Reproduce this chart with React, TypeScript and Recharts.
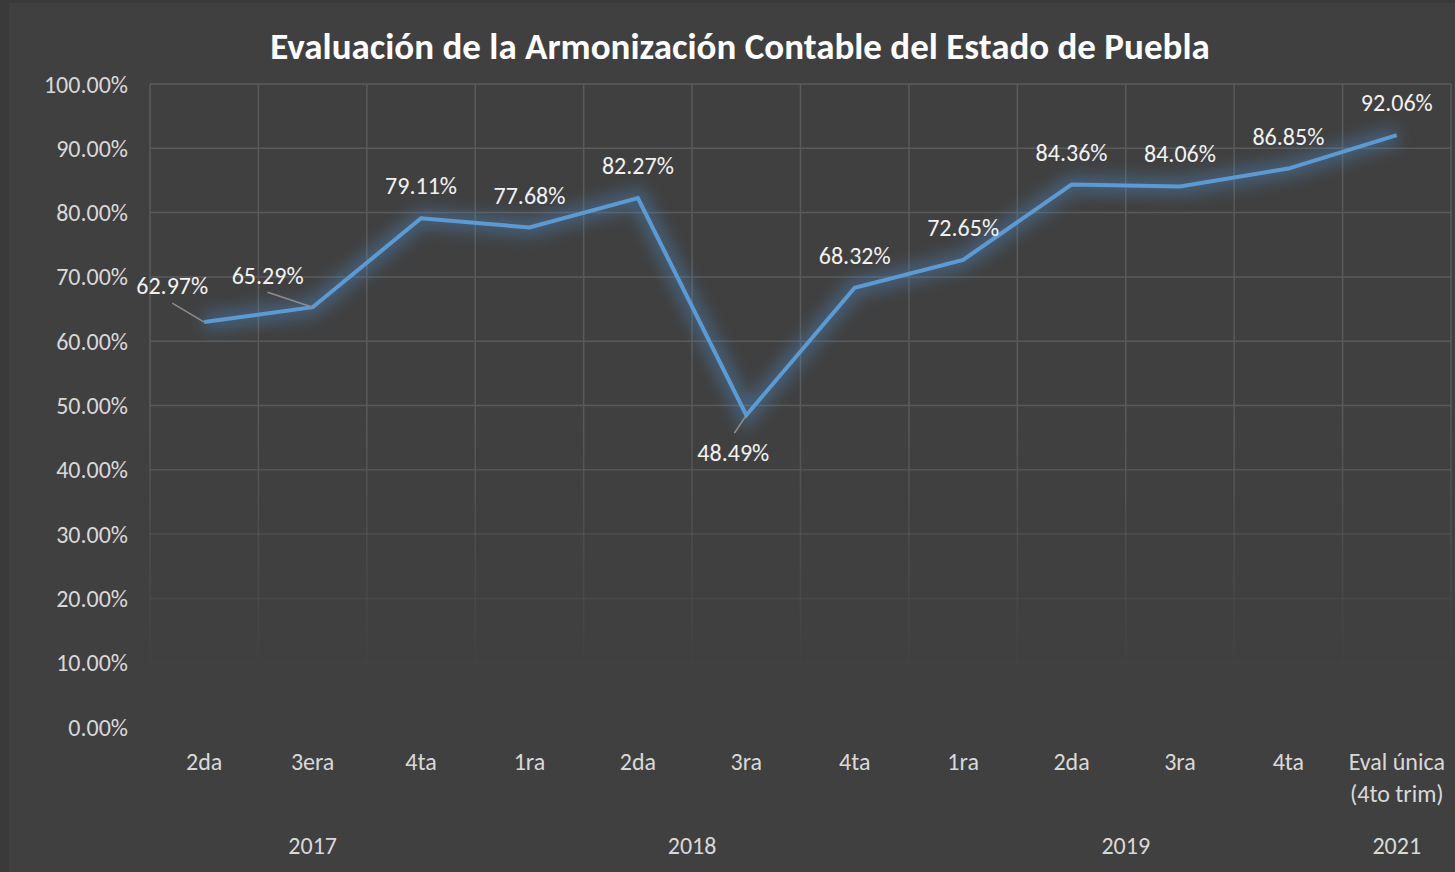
import React from 'react';
import {
  LineChart,
  Line,
  XAxis,
  YAxis,
  CartesianGrid,
  LabelList,
} from 'recharts';

const periods = ['2da', '3era', '4ta', '1ra', '2da', '3ra', '4ta', '1ra', '2da', '3ra', '4ta', 'Eval única\n(4to trim)'];
const years = ['2017', '2017', '2017', '2018', '2018', '2018', '2018', '2019', '2019', '2019', '2019', '2021'];
const scores = [62.97, 65.29, 79.11, 77.68, 82.27, 48.49, 68.32, 72.65, 84.36, 84.06, 86.85, 92.06];
const yTicks = [0, 10, 20, 30, 40, 50, 60, 70, 80, 90, 100];

const data = periods.map((p, i) => ({ idx: i, period: p, year: years[i], value: scores[i] }));

const FONT = 'Carlito, Lato, "Open Sans", sans-serif';
const W = 1455;
const H = 872;
const PLOT_LEFT = 150;
const PLOT_RIGHT = 1451;
const STEP = (PLOT_RIGHT - PLOT_LEFT) / periods.length;
const FS = 24;

// label placement (text centre relative to point) and leader lines
const labelOffsets: Record<number, { dx: number; dy: number; leader?: [number, number] }> = {
  0: { dx: -32, dy: -36, leader: [-32, -19] },
  1: { dx: -45, dy: -31, leader: [-45, -15] },
  5: { dx: -13, dy: 38, leader: [-12, 18] },
};

const PointLabel = (props: any) => {
  const { x, y, value, index } = props;
  const o = labelOffsets[index] || { dx: 0, dy: -32 };
  return (
    <g>
      {o.leader && (
        <line x1={x + o.leader[0]} y1={y + o.leader[1]} x2={x} y2={y} stroke='#8c8c8c' strokeWidth={1.5} />
      )}
      <text
        x={x + o.dx}
        y={y + o.dy + 8}
        textAnchor='middle'
        fill='#f2f2f2'
        fontSize={FS}
        fontFamily={FONT}
      >
        {Number(value).toFixed(2)}%
      </text>
    </g>
  );
};

const CategoryTick = (props: any) => {
  const { x, y, index } = props;
  const lines = periods[index].split('\n');
  const year = years[index];
  const first = years.indexOf(year);
  const count = years.filter((v) => v === year).length;
  return (
    <g>
      {lines.map((l, i) => (
        <text
          key={i}
          x={x}
          y={y + 43 + i * 32}
          textAnchor='middle'
          fill='#d9d9d9'
          fontSize={FS}
          fontFamily={FONT}
        >
          {l}
        </text>
      ))}
      {index === first && (
        <text
          x={x + ((count - 1) / 2) * STEP}
          y={y + 127}
          textAnchor='middle'
          fill='#d9d9d9'
          fontSize={FS}
          fontFamily={FONT}
        >
          {year}
        </text>
      )}
    </g>
  );
};

export default function App() {
  return (
    <div style={{ position: 'absolute', left: 0, top: 0, width: W, height: H, background: '#3a3a3a' }}>
      <div style={{ position: 'absolute', left: 9, top: 3, right: 0, bottom: 0, background: '#404040' }} />
      <div
        style={{
          position: 'absolute',
          left: 0,
          width: 1480,
          top: 25,
          textAlign: 'center',
          color: '#ffffff',
          fontFamily: FONT,
          fontWeight: 700,
          fontSize: 37,
          lineHeight: '44px',
        }}
      >
        Evaluación de la Armonización Contable del Estado de Puebla
      </div>
      <div style={{ position: 'absolute', left: 0, top: 0 }}>
        <LineChart width={W} height={H} data={data} margin={{ top: 84, right: W - PLOT_RIGHT, bottom: 5, left: 10 }}>
          <defs>
            <linearGradient id='gridFade' gradientUnits='userSpaceOnUse' x1='0' y1='84' x2='0' y2='727'>
              <stop offset='0' stopColor='#5a5a5a' stopOpacity={1} />
              <stop offset='0.5' stopColor='#5a5a5a' stopOpacity={1} />
              <stop offset='0.92' stopColor='#5a5a5a' stopOpacity={0} />
              <stop offset='1' stopColor='#5a5a5a' stopOpacity={0} />
            </linearGradient>
            <filter id='glow' x='-20%' y='-20%' width='140%' height='140%'>
              <feGaussianBlur stdDeviation='8' />
            </filter>
          </defs>
          <CartesianGrid
            stroke='url(#gridFade)'
            strokeWidth={1.5}
            verticalCoordinatesGenerator={({ offset }: any) =>
              periods.map((_, i) => offset.left + (i * offset.width) / periods.length).concat([offset.left + offset.width])
            }
          />
          <XAxis
            dataKey='idx'
            type='category'
            axisLine={false}
            tickLine={false}
            tickSize={0}
            tickMargin={0}
            height={140}
            interval={0}
            padding={{ left: STEP / 2, right: STEP / 2 }}
            tick={<CategoryTick />}
          />
          <YAxis
            domain={[0, 100]}
            ticks={yTicks}
            axisLine={false}
            tickLine={false}
            tickSize={0}
            tickMargin={22}
            width={140}
            interval={0}
            tick={{ fill: '#d9d9d9', fontSize: FS, fontFamily: FONT }}
            tickFormatter={(v: number) => `${v.toFixed(2)}%`}
          />
          <Line
            dataKey='value'
            stroke='#4f8fcc'
            strokeWidth={18}
            strokeOpacity={0.4}
            filter='url(#glow)'
            dot={false}
            activeDot={false}
            isAnimationActive={false}
          />
          <Line
            dataKey='value'
            stroke='#5b9bd5'
            strokeWidth={4}
            dot={false}
            activeDot={false}
            isAnimationActive={false}
          >
            <LabelList dataKey='value' content={<PointLabel />} />
          </Line>
        </LineChart>
      </div>
    </div>
  );
}
